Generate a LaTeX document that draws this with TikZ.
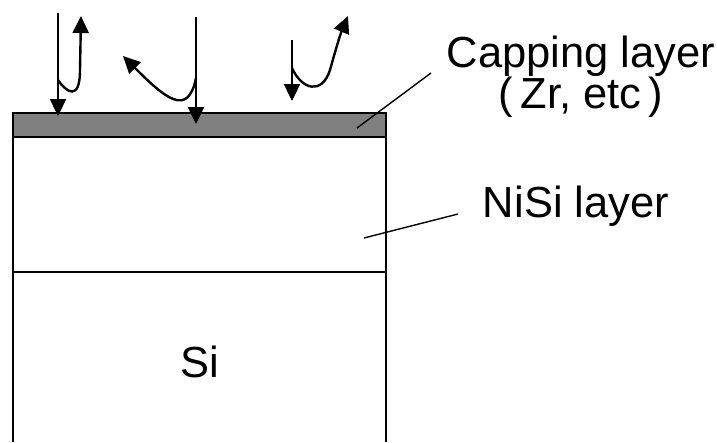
\documentclass[tikz,border=0pt]{standalone}
\usepackage{fontspec}
\setmainfont{Liberation Sans}
\usepackage{xcolor}
\usetikzlibrary{arrows.meta}
\definecolor{capgray}{HTML}{808080}

\begin{document}
\begin{tikzpicture}[
  x=1pt,y=-1pt,
  lbl/.style={font=\fontsize{43.5}{48}\selectfont,inner sep=0pt,anchor=base},
  wall/.style={line width=2.2pt,draw=black},
  ray/.style={-{Triangle[length=17pt,width=16pt]},line width=2.4pt},
  lead/.style={line width=1.4pt}
]
\useasboundingbox (0,0) rectangle (717,442);
% layers
\fill[capgray] (13,113) rectangle (386,137);
\draw[wall] (13,442) -- (13,113) -- (386,113) -- (386,442);
\draw[wall] (13,137) -- (386,137);
\draw[wall] (13,272) -- (386,272);
% labels
\node[lbl] (cap)  at (581,67)  {Capping layer};
\node[lbl] (capz) at (581,108) {(\,Zr, etc\,)};
\node[lbl] (nisi) at (576,217) {NiSi layer};
\node[lbl] (si)   at (200,377) {Si};
\coordinate (capend)  at (357,128);
\coordinate (capfoot) at (431,73);
\coordinate (nisiend)  at (364,238);
\coordinate (nisifoot) at (458,214);
\draw[lead] (capend) -- (capfoot);
\draw[lead] (nisiend) -- (nisifoot);
% incoming rays
\coordinate (in1) at (58,13);  \coordinate (hit1) at (58,116);
\coordinate (in2) at (196,17); \coordinate (hit2) at (196,124);
\coordinate (in3) at (292,40); \coordinate (hit3) at (292,101);
\draw[ray] (in1) -- (hit1);
\draw[ray] (in2) -- (hit2);
\draw[ray] (in3) -- (hit3);
% reflected rays
\coordinate (out1) at (81,16);
\coordinate (out2) at (123,56);
\coordinate (out3) at (348,16);
\draw[ray] (58,80) .. controls (66,92) and (80,102) .. (80,70) -- (out1);
\draw[ray] (196,78) .. controls (188,118) and (165,98) .. (out2);
\draw[ray] (292,68) .. controls (302,90) and (322,95) .. (330,70)
  .. controls (335,52) and (340,35) .. (out3);
\end{tikzpicture}
\end{document}
